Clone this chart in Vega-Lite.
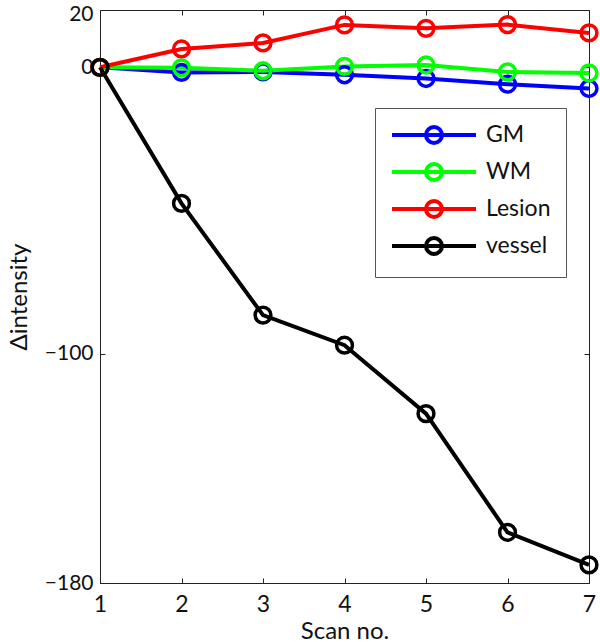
{
  "$schema": "https://vega.github.io/schema/vega-lite/v6.json",
  "width": 489,
  "height": 573,
  "autosize": {"type": "none"},
  "padding": {"left": 100, "top": 10, "right": 11, "bottom": 59},
  "background": "white",
  "config": {
    "view": {"stroke": "#222", "strokeWidth": 1},
    "font": "Lato",
    "axis": {
      "domainColor": "#222",
      "tickColor": "#222",
      "tickSize": -5,
      "grid": false,
      "labelFont": "Lato",
      "labelFontSize": 23,
      "labelColor": "#111",
      "titleFont": "Lato",
      "titleFontSize": 24,
      "titleFontWeight": "normal",
      "titleColor": "#111"
    }
  },
  "data": {
    "values": [
      {"scan": 1, "series": "GM", "value": 0},
      {"scan": 2, "series": "GM", "value": -1.8},
      {"scan": 3, "series": "GM", "value": -1.6},
      {"scan": 4, "series": "GM", "value": -2.6},
      {"scan": 5, "series": "GM", "value": -3.9},
      {"scan": 6, "series": "GM", "value": -5.9},
      {"scan": 7, "series": "GM", "value": -7.4},
      {"scan": 1, "series": "WM", "value": 0},
      {"scan": 2, "series": "WM", "value": -0.2},
      {"scan": 3, "series": "WM", "value": -1.2},
      {"scan": 4, "series": "WM", "value": 0.3},
      {"scan": 5, "series": "WM", "value": 0.8},
      {"scan": 6, "series": "WM", "value": -1.6},
      {"scan": 7, "series": "WM", "value": -2.0},
      {"scan": 1, "series": "Lesion", "value": 0},
      {"scan": 2, "series": "Lesion", "value": 6.4},
      {"scan": 3, "series": "Lesion", "value": 8.5},
      {"scan": 4, "series": "Lesion", "value": 14.8},
      {"scan": 5, "series": "Lesion", "value": 13.6},
      {"scan": 6, "series": "Lesion", "value": 14.9},
      {"scan": 7, "series": "Lesion", "value": 12.0},
      {"scan": 1, "series": "vessel", "value": 0},
      {"scan": 2, "series": "vessel", "value": -47.5},
      {"scan": 3, "series": "vessel", "value": -86.5},
      {"scan": 4, "series": "vessel", "value": -97.0},
      {"scan": 5, "series": "vessel", "value": -120.9},
      {"scan": 6, "series": "vessel", "value": -162.3},
      {"scan": 7, "series": "vessel", "value": -173.7}
    ]
  },
  "resolve": {"axis": {"x": "independent", "y": "independent"}},
  "layer": [
    {
      "mark": {"type": "line", "strokeWidth": 4, "clip": false},
      "encoding": {
        "x": {
          "field": "scan", "type": "quantitative",
          "scale": {"domain": [1, 7], "nice": false, "zero": false},
          "axis": {"values": [1, 2, 3, 4, 5, 6, 7], "title": "Scan no.", "labelPadding": 15, "titlePadding": 3, "labelFlush": false}
        },
        "y": {
          "field": "value", "type": "quantitative",
          "scale": {"domain": [-180, 20], "nice": false, "zero": false},
          "axis": {
            "values": [20, 0, -100, -180], "title": "Δintensity", "labelFontSize": 21, "labelPadding": 12, "titlePadding": 13, "labelFlush": false,
            "labelOffset": {"condition": {"test": "datum.value === 20", "value": 4}, "value": 0}
          }
        },
        "color": {
          "field": "series", "type": "nominal",
          "scale": {"domain": ["GM", "WM", "Lesion", "vessel"], "range": ["#0000ff", "#00ff00", "#ff0000", "#000000"]},
          "legend": {
            "title": null,
            "orient": "none",
            "legendX": 275,
            "legendY": 98,
            "symbolType": "M-4.2,0H4.2M0.8,0A0.8,0.8,0,1,1,-0.8,0A0.8,0.8,0,1,1,0.8,0",
            "symbolSize": 400,
            "symbolStrokeWidth": 4,
            "symbolFillColor": "transparent",
            "symbolOffset": 32,
            "labelFont": "Lato",
            "labelFontSize": 23,
            "labelColor": "#111",
            "labelOffset": 40,
            "rowPadding": 5,
            "padding": 15,
            "strokeColor": "#555",
            "fillColor": "white",
            "cornerRadius": 0
          }
        },
        "order": {"field": "scan", "type": "quantitative"}
      }
    },
    {
      "mark": {"type": "point", "filled": false, "size": 250, "strokeWidth": 3.5, "opacity": 1, "clip": false},
      "encoding": {
        "x": {
          "field": "scan", "type": "quantitative",
          "scale": {"domain": [1, 7], "nice": false, "zero": false},
          "axis": {"orient": "top", "values": [1, 2, 3, 4, 5, 6, 7], "labels": false, "title": null, "domain": false}
        },
        "y": {
          "field": "value", "type": "quantitative",
          "scale": {"domain": [-180, 20], "nice": false, "zero": false},
          "axis": {"orient": "right", "values": [20, 0, -100, -180], "labels": false, "title": null, "domain": false}
        },
        "color": {"field": "series", "type": "nominal", "legend": null}
      }
    }
  ]
}
